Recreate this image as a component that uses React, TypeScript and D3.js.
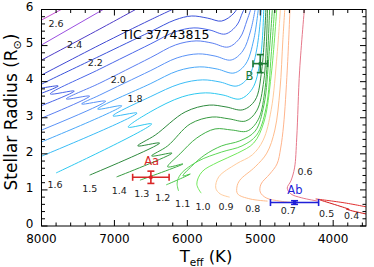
import * as d3 from "d3";
import React from "react";

const W = 374;
const H = 267;

// MIST-like tracks, points are [Teff (K), R (Rsun)]
const track26 = [[8230, 5.46], [7610, 6.13]];
const track25 = [[8230, 4.75], [7120, 6.04]];
const track24 = [[8230, 4.35], [7200, 5.46], [6620, 6.1]];
const track23 = [[8230, 3.94], [7200, 5.02], [6510, 5.71], [6100, 6.1]];
const track22 = [[8300, 3.46], [7770, 3.88], [8120, 3.8], [7990, 3.94], [7200, 4.71], [6510, 5.38], [6170, 5.71], [5940, 5.82], [5720, 5.76], [5530, 5.68], [5360, 5.9], [5280, 6.18]];
const track21 = [[8300, 3.1], [7550, 3.74], [7880, 3.66], [7200, 4.35], [6510, 5.04], [6170, 5.38], [5910, 5.49], [5690, 5.43], [5480, 5.32], [5320, 5.57], [5240, 5.93], [5170, 6.21]];
const track20 = [[8300, 2.74], [7340, 3.6], [7660, 3.52], [7200, 3.96], [6510, 4.66], [6160, 5.02], [5880, 5.13], [5660, 5.07], [5440, 4.96], [5280, 5.21], [5180, 5.71], [5110, 6.13]];
const track19 = [[8300, 2.41], [7120, 3.46], [7450, 3.38], [7200, 3.63], [6510, 4.3], [6140, 4.66], [5850, 4.77], [5620, 4.71], [5400, 4.6], [5240, 4.85], [5130, 5.43], [5060, 6.13]];
const track18 = [[8300, 2.08], [6900, 3.33], [7230, 3.24], [6510, 3.94], [6130, 4.3], [5830, 4.41], [5590, 4.35], [5360, 4.24], [5200, 4.49], [5090, 5.16], [5020, 6.13]];
const track17 = [[8160, 1.8], [6690, 3.13], [7020, 3.05], [6510, 3.58], [6100, 3.94], [5790, 4.05], [5550, 3.99], [5320, 3.88], [5160, 4.13], [5050, 4.88], [4980, 6.13]];
const track16 = [[7800, 1.47], [6490, 2.83], [6810, 2.74], [6510, 3.16], [6070, 3.58], [5750, 3.69], [5510, 3.63], [5280, 3.52], [5110, 3.8], [5000, 4.6], [4950, 6.13]];
const track15 = [[7340, 1.41], [6380, 2.3], [6680, 2.22], [6440, 2.52], [6030, 3.16], [5700, 3.35], [5470, 3.3], [5240, 3.22], [5070, 3.49], [4980, 4.32], [4920, 6.13]];
const track14 = [[6970, 1.36], [6210, 2.02], [6490, 1.94], [6270, 2.22], [5960, 2.83], [5660, 3.02], [5430, 2.97], [5200, 2.91], [5050, 3.19], [4950, 4.05], [4900, 6.13]];
const track13 = [[6650, 1.27], [6060, 1.72], [6270, 1.64], [6100, 2.0], [5870, 2.44], [5620, 2.69], [5390, 2.66], [5180, 2.63], [5030, 2.94], [4940, 3.71], [4870, 6.13]];
const track12 = [[6290, 1.14], [5960, 1.44], [6060, 1.39], [5940, 1.66], [5760, 1.97], [5530, 2.22], [5280, 2.36], [5070, 2.63], [4950, 3.35], [4880, 4.74], [4830, 6.13]];
const track11 = [[6120, 0.97], [6140, 1.19], [6090, 1.44], [5850, 1.8], [5530, 2.05], [5250, 2.22], [5050, 2.52], [4920, 3.27], [4850, 4.74], [4800, 6.13]];
const track10 = [[5810, 0.91], [5870, 1.16], [5800, 1.5], [5580, 1.77], [5310, 2.02], [5090, 2.3], [4950, 2.88], [4850, 4.18], [4770, 6.13]];
const track09 = [[5420, 0.8], [5550, 0.89], [5610, 1.05], [5570, 1.36], [5330, 1.72], [5110, 1.97], [4960, 2.38], [4850, 3.22], [4770, 4.74], [4720, 6.13]];
const track08 = [[4900, 0.69], [5140, 0.75], [5310, 0.89], [5320, 1.08], [5280, 1.27], [5070, 1.64], [4910, 2.02], [4800, 2.66], [4730, 3.77], [4690, 5.16], [4660, 6.13]];
const track07 = [[4500, 0.64], [4730, 0.69], [4920, 0.78], [5000, 0.94], [4990, 1.16], [4870, 1.44], [4770, 1.72], [4720, 2.16], [4680, 2.8], [4630, 4.32], [4590, 6.13]];
const track06 = [[4210, 0.69], [4430, 0.78], [4580, 0.89], [4630, 1.05], [4580, 1.25], [4530, 1.61], [4500, 2.44], [4460, 4.32], [4390, 6.13]];
const track05 = [[3470, 0.5], [3840, 0.64], [4240, 0.75]];
const track04 = [[3470, 0.3], [3760, 0.43], [3820, 0.47], [3780, 0.46], [4180, 0.72]];

const tracks = [track26, track25, track24, track23, track22, track21, track20, track19, track18, track17, track16, track15, track14, track13, track12, track11, track10, track09, track08, track07, track06, track05, track04];
const trackColors = [
  "#c64fd6", "#9a4fe0", "#4e3cc8", "#3f48d2", "#3a52da", "#4a66e8", "#5a7ef0", "#5a92f6",
  "#4aa8f8", "#3abcf6", "#2ec8f0", "#2e8a3e", "#379a40", "#40ae46", "#4cc44c", "#5fd858",
  "#72e85c", "#ffcb9c", "#ffbc8c", "#ffb48c", "#e6788a", "#e03030", "#d01818",
];

// mass labels
const massLabels = ["2.6", "2.4", "2.2", "2.0", "1.8", "1.6", "1.5", "1.4", "1.3", "1.2", "1.1", "1.0", "0.9", "0.8", "0.7", "0.6", "0.5", "0.4"];
const massLabelTeff = [7800, 7545, 7262, 6947, 6718, 7815, 7339, 6933, 6626, 6338, 6064, 5786, 5470, 5104, 4616, 4387, 4090, 3747];
const massLabelR = [5.6, 5.04, 4.54, 4.07, 3.54, 1.14, 1.04, 0.98, 0.89, 0.78, 0.63, 0.55, 0.53, 0.49, 0.44, 1.5, 0.35, 0.28];

// the three stars
const starNames = ["Aa", "Ab", "B"];
const starTeff = [6500, 4530, 5000];
const starTeffErr = [250, 330, 100];
const starR = [1.35, 0.65, 4.5];
const starRErr = [0.17, 0.05, 0.25];
const starColors = ["#d92626", "#1f1fd8", "#1d7a34"];
const starLabelTeff = [6490, 4525, 5150];
const starLabelR = [1.68, 0.89, 4.05];

const xMajor = [8000, 7000, 6000, 5000, 4000];
const yMajor = [0, 1, 2, 3, 4, 5, 6];

const font = "DejaVu Sans";

export default function App() {
  const x = d3.scaleLinear().domain([8000, 3550]).range([41.5, 366]);
  const y = d3.scaleLinear().domain([0, 6]).range([226, 9.5]);
  const [x0, x1] = x.range();
  const [y0, y1] = y.range();

  const line = d3
    .line<number[]>()
    .x((d) => x(d[0]))
    .y((d) => y(d[1]))
    .curve(d3.curveCatmullRom.alpha(0.5));

  const xMinor = d3.range(3600, 8001, 200).filter((v) => !xMajor.includes(v));
  const yMinor = d3.range(0, 6.001, 0.2).filter((v) => Math.abs(v - Math.round(v)) > 0.01);

  const cap = 3.5;

  return (
    <svg
      width={W}
      height={H}
      style={{ position: "absolute", left: 0, top: 0, background: "#fff" }}
      fontFamily={font}>
      <defs>
        <clipPath id="plot">
          <rect x={x0} y={y1} width={x1 - x0} height={y0 - y1} />
        </clipPath>
      </defs>

      <g clipPath="url(#plot)">
        {tracks.map((t, i) => (
          <path key={i} d={line(t) || ""} fill="none" stroke={trackColors[i]} strokeWidth={1} />
        ))}
      </g>

      {massLabels.map((m, i) => (
        <text
          key={m}
          x={x(massLabelTeff[i])}
          y={y(massLabelR[i])}
          dy="0.36em"
          textAnchor="middle"
          fontSize={9.5}
          fill="#222">
          {m}
        </text>
      ))}

      {starNames.map((s, i) => {
        const cx = x(starTeff[i]);
        const cy = y(starR[i]);
        const xl = x(starTeff[i] + starTeffErr[i]);
        const xr = x(starTeff[i] - starTeffErr[i]);
        const yt = y(starR[i] + starRErr[i]);
        const yb = y(starR[i] - starRErr[i]);
        const c = starColors[i];
        return (
          <g key={s} stroke={c} strokeWidth={1.6}>
            <line x1={xl} x2={xr} y1={cy} y2={cy} />
            <line x1={xl} x2={xl} y1={cy - cap} y2={cy + cap} />
            <line x1={xr} x2={xr} y1={cy - cap} y2={cy + cap} />
            <line x1={cx} x2={cx} y1={yt} y2={yb} />
            <line x1={cx - cap} x2={cx + cap} y1={yt} y2={yt} />
            <line x1={cx - cap} x2={cx + cap} y1={yb} y2={yb} />
            <circle cx={cx} cy={cy} r={2} fill={c} stroke="none" />
            <text
              x={x(starLabelTeff[i])}
              y={y(starLabelR[i])}
              textAnchor="middle"
              fontSize={11.5}
              fill={c}
              stroke="none">
              {s}
            </text>
          </g>
        );
      })}

      <text x={x(6900)} y={y(5.18)} fontSize={12.5} fill="#000">
        TIC 37743815
      </text>

      {/* frame and inward ticks */}
      <rect x={x0} y={y1} width={x1 - x0} height={y0 - y1} fill="none" stroke="#000" strokeWidth={1} />
      <g stroke="#000" strokeWidth={1}>
        {xMajor.map((v) => (
          <g key={v}>
            <line x1={x(v)} x2={x(v)} y1={y0} y2={y0 - 6} />
            <line x1={x(v)} x2={x(v)} y1={y1} y2={y1 + 6} />
          </g>
        ))}
        {xMinor.map((v) => (
          <g key={v}>
            <line x1={x(v)} x2={x(v)} y1={y0} y2={y0 - 3.5} />
            <line x1={x(v)} x2={x(v)} y1={y1} y2={y1 + 3.5} />
          </g>
        ))}
        {yMajor.map((v) => (
          <g key={v}>
            <line x1={x0} x2={x0 + 6} y1={y(v)} y2={y(v)} />
            <line x1={x1} x2={x1 - 6} y1={y(v)} y2={y(v)} />
          </g>
        ))}
        {yMinor.map((v) => (
          <g key={v}>
            <line x1={x0} x2={x0 + 3.5} y1={y(v)} y2={y(v)} />
            <line x1={x1} x2={x1 - 3.5} y1={y(v)} y2={y(v)} />
          </g>
        ))}
      </g>

      {xMajor.map((v) => (
        <text key={v} x={x(v)} y={242.5} textAnchor="middle" fontSize={12} fill="#000">
          {v}
        </text>
      ))}
      {yMajor.map((v) => (
        <text key={v} x={33.5} y={y(v)} dy="0.15em" textAnchor="end" fontSize={12} fill="#000">
          {v}
        </text>
      ))}

      <text x={206} y={261.5} textAnchor="middle" fontSize={16.5} fill="#000">
        T
        <tspan fontSize={10.5} dy={4}>
          eff
        </tspan>
        <tspan dy={-4}> (K)</tspan>
      </text>
      <text transform="translate(17,112) rotate(-90)" textAnchor="middle" fontSize={17} fill="#000">
        Stellar Radius (R
        <tspan fontSize={11} dy={4}>
          ⊙
        </tspan>
        <tspan dy={-4}>)</tspan>
      </text>
    </svg>
  );
}
